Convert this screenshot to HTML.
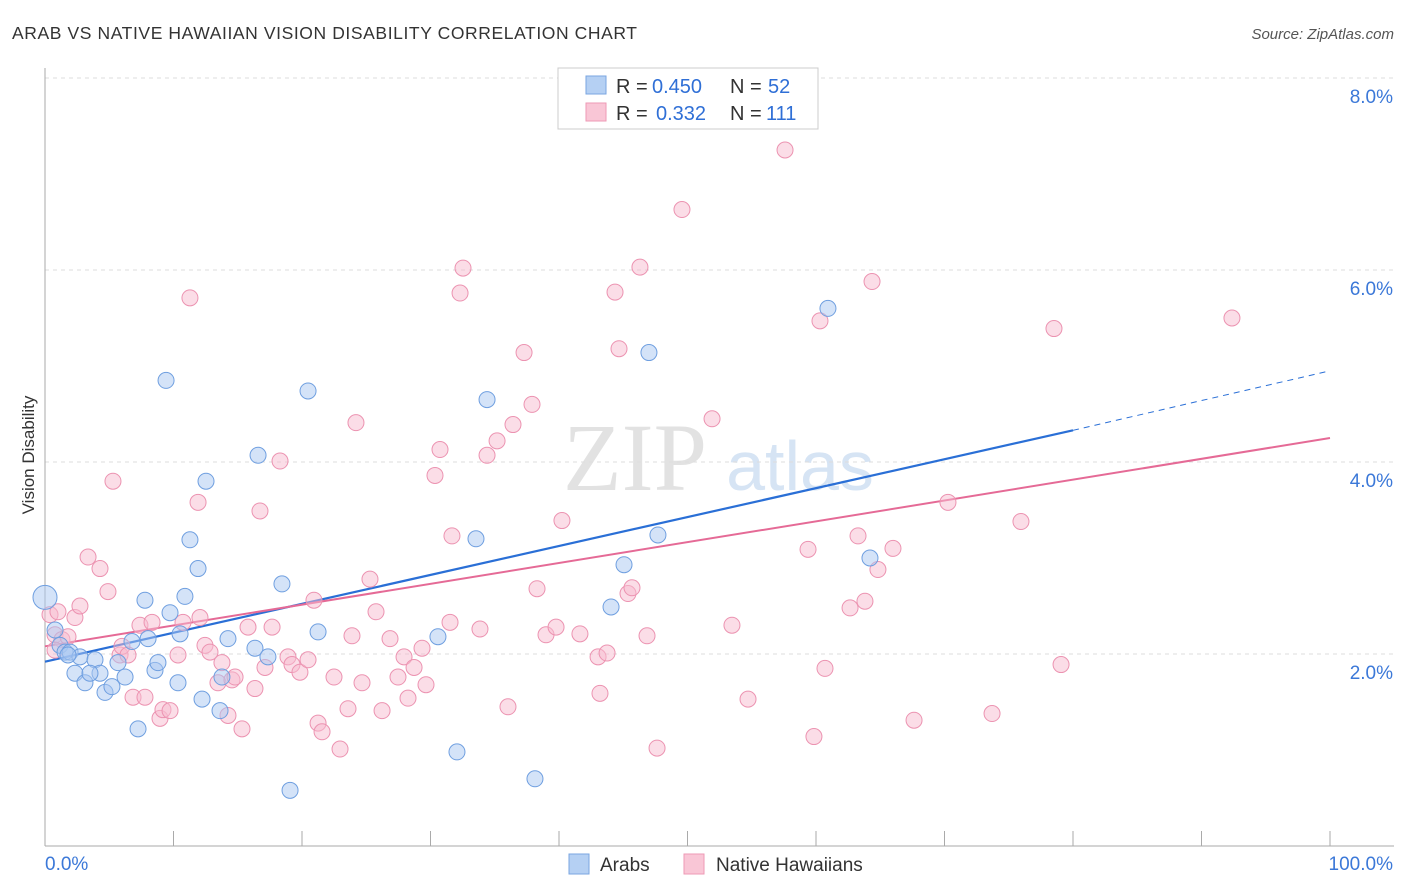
<!DOCTYPE html>
<html><head><meta charset="utf-8"><style>
body{margin:0;background:#fff;font-family:"Liberation Sans",sans-serif;}
svg{display:block}
</style></head><body>
<svg id="chart" width="1406" height="892">
<text x="12" y="39" font-size="17.5" fill="#333" textLength="625" lengthAdjust="spacing">ARAB VS NATIVE HAWAIIAN VISION DISABILITY CORRELATION CHART</text>
<text x="1394" y="39" font-size="15" fill="#555" font-style="italic" text-anchor="end">Source: ZipAtlas.com</text>
<text x="34" y="455" font-size="17" fill="#333" transform="rotate(-90 34 455)" text-anchor="middle">Vision Disability</text>
<g><text x="635" y="490" font-size="96" font-family="Liberation Serif,serif" fill="#e2e2e2" text-anchor="middle">ZIP</text><text x="800" y="490" font-size="70" fill="#d6e4f4" text-anchor="middle">atlas</text></g>
<g id="grid"></g><g id="axes"></g><g id="trend"></g><g id="pts"></g>
<g>
<rect x="558" y="68" width="260" height="61" fill="#fff" stroke="#ccc"/>
<rect x="586" y="76" width="20" height="18" fill="#b5d0f3" stroke="#7aa6e0"/>
<rect x="586" y="103" width="20" height="18" fill="#f9c6d6" stroke="#ee9ab5"/>
<text x="616" y="93" font-size="20" fill="#333">R = <tspan fill="#2f6fd6" x="652">0.450</tspan><tspan x="730">N = </tspan><tspan fill="#2f6fd6" x="768">52</tspan></text>
<text x="616" y="120" font-size="20" fill="#333">R = <tspan fill="#2f6fd6" x="656">0.332</tspan><tspan x="730">N = </tspan><tspan fill="#2f6fd6" x="766">111</tspan></text>
</g>
<g>
<rect x="569" y="854" width="20" height="20" fill="#b5d0f3" stroke="#7aa6e0"/><text x="600" y="871" font-size="19" fill="#333">Arabs</text>
<rect x="684" y="854" width="20" height="20" fill="#f9c6d6" stroke="#ee9ab5"/><text x="716" y="871" font-size="19" fill="#333">Native Hawaiians</text>
</g>
</svg>
<script>
const xTicks=[0,10,20,30,40,50,60,70,80,90,100];
const yTicks=[2,4,6,8];
const yTickLabels=["2.0%","4.0%","6.0%","8.0%"];
const arabX=[0,0.78,1.17,1.56,1.95,2.72,2.33,3.11,3.89,4.28,4.67,5.21,5.68,6.23,6.77,7.24,7.78,8.02,8.56,8.79,9.42,9.73,10.35,10.51,10.89,11.91,11.28,12.22,12.53,13.62,13.77,14.24,16.34,16.58,17.35,18.44,19.07,20.47,21.25,30.58,32.06,33.54,34.40,38.13,44.05,45.06,47.00,47.70,60.93,64.20,3.50,1.79];
const arabY=[2.59,2.25,2.09,2.02,2.02,1.97,1.80,1.70,1.94,1.80,1.60,1.66,1.91,1.76,2.13,1.22,2.56,2.16,1.83,1.91,4.85,2.43,1.70,2.21,2.60,2.89,3.19,1.53,3.80,1.41,1.76,2.16,2.06,4.07,1.97,2.73,0.58,4.74,2.23,2.18,0.98,3.20,4.65,0.70,2.49,2.93,5.14,3.24,5.60,3.00,1.80,1.99];
const hawX=[0.39,0.78,1.01,1.32,1.79,2.33,2.72,3.35,4.28,4.90,5.29,5.84,5.99,6.46,6.85,7.39,7.78,8.33,8.95,9.18,9.73,10.35,10.74,11.28,11.91,12.06,12.45,12.84,13.46,13.77,14.24,14.55,14.79,15.33,15.80,16.34,16.73,17.12,17.67,18.29,18.91,19.22,19.84,20.47,20.93,21.25,21.56,22.49,22.96,23.58,23.89,24.20,24.67,25.29,25.76,26.23,26.85,27.47,27.94,28.25,28.72,29.34,29.65,30.35,30.74,31.52,31.67,32.30,32.53,33.85,34.40,35.18,36.03,36.42,37.28,37.90,38.29,38.99,39.77,40.23,41.63,43.04,43.19,43.74,44.36,44.67,45.37,45.68,46.30,46.85,47.63,49.57,51.91,53.46,54.71,57.59,59.38,59.84,60.31,60.70,62.65,63.27,63.81,64.36,64.82,65.99,67.63,70.27,73.70,75.95,78.52,79.07,92.37,0.78];
const hawY=[2.41,2.20,2.44,2.15,2.18,2.38,2.50,3.01,2.89,2.65,3.80,1.99,2.08,1.99,1.55,2.30,1.55,2.33,1.33,1.42,1.41,1.99,2.33,5.71,3.58,2.38,2.09,2.02,1.70,1.91,1.36,1.73,1.76,1.22,2.28,1.64,3.49,1.86,2.28,4.01,1.97,1.89,1.81,1.94,2.56,1.28,1.19,1.76,1.01,1.43,2.19,4.41,1.70,2.78,2.44,1.41,2.16,1.76,1.97,1.54,1.86,2.06,1.68,3.86,4.13,2.33,3.23,5.76,6.02,2.26,4.07,4.22,1.45,4.39,5.14,4.60,2.68,2.20,2.28,3.39,2.21,1.97,1.59,2.01,5.77,5.18,2.63,2.69,6.03,2.19,1.02,6.63,4.45,2.30,1.53,7.25,3.09,1.14,5.47,1.85,2.48,3.23,2.55,5.88,2.88,3.10,1.31,3.58,1.38,3.38,5.39,1.89,5.50,2.04];
const arabTrend=[1.92,4.33,4.95]; const arabTrendX=[0,80,100];
const hawTrend=[2.08,4.25]; const hawTrendX=[0,100];
const NS="http://www.w3.org/2000/svg";
const X=v=>45+v*12.85, Y=v=>846-v*96;
function mk(tag,attrs,parent){const e=document.createElementNS(NS,tag);for(const k in attrs)e.setAttribute(k,attrs[k]);document.getElementById(parent).appendChild(e);return e;}
yTicks.forEach((t,i)=>{
 const g=mk('line',{x1:45,x2:1394,y1:Y(t),y2:Y(t),stroke:'#ddd','stroke-dasharray':'4 4'},'grid');
 
 
 const l=mk('text',{x:1393,y:Y(t)+25,'font-size':19,fill:'#3b78d8','text-anchor':'end'},'grid');l.textContent=yTickLabels[i];
 
 
});
const ax=mk('line',{x1:45,x2:45,y1:68,y2:846,stroke:'#aaa'},'axes');


const bx=mk('line',{x1:45,x2:1394,y1:846,y2:846,stroke:'#aaa'},'axes');


xTicks.forEach(t=>{const tk=mk('line',{x1:X(t),x2:X(t),y1:831,y2:846,stroke:'#aaa'},'axes');
 
 });
const l0=mk('text',{x:45,y:870,'font-size':19,fill:'#3b78d8'},'axes');l0.textContent=xTicks[0].toFixed(1)+'%';


const l1=mk('text',{x:1393,y:870,'font-size':19,fill:'#3b78d8','text-anchor':'end'},'axes');l1.textContent=xTicks[10].toFixed(1)+'%';


function dot(x,y,fill,stroke,r,name){const c=mk('circle',{cx:X(x),cy:Y(y),r:r,fill:fill,'fill-opacity':0.5,stroke:stroke,'stroke-width':1},'pts');
 
 }
hawX.forEach((x,i)=>dot(x,hawY[i],'#f7bcd0','#ec93b1',8,'native-hawaiian-point'));
arabX.forEach((x,i)=>dot(x,arabY[i],'#a9c8f1','#6f9fe0',i===0?12:8,'arab-point'));
const t1=mk('line',{x1:X(arabTrendX[0]),y1:Y(arabTrend[0]),x2:X(arabTrendX[1]),y2:Y(arabTrend[1]),stroke:'#2a6fd6','stroke-width':2.2},'trend');


const t2=mk('line',{x1:X(arabTrendX[1]),y1:Y(arabTrend[1]),x2:X(arabTrendX[2]),y2:Y(arabTrend[2]),stroke:'#2a6fd6','stroke-width':1,'stroke-dasharray':'6 5'},'trend');


const t3=mk('line',{x1:X(hawTrendX[0]),y1:Y(hawTrend[0]),x2:X(hawTrendX[1]),y2:Y(hawTrend[1]),stroke:'#e56a96','stroke-width':2},'trend');


</script>
</body></html>
